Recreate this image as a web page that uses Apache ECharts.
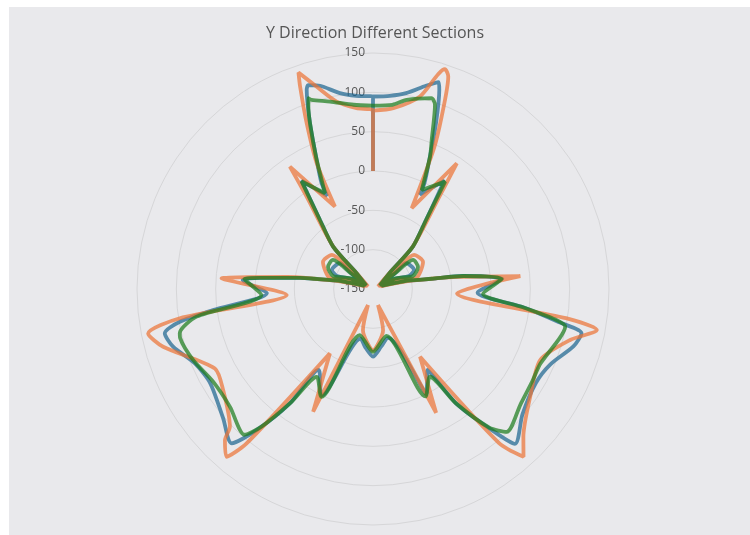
<!DOCTYPE html>
<html>
<head>
<meta charset="utf-8">
<script src="https://cdn.jsdelivr.net/npm/echarts@6/dist/echarts.min.js"></script>
<style>
  html, body { margin: 0; padding: 0; background: #fff; }
  #chart { width: 750px; height: 535px; }
</style>
</head>
<body>
<div id="chart"></div>
<script>
// angles in degrees, counter-clockwise from the top
const radialTicks = [-150, -100, -50, 0, 50, 100, 150];

const blueTheta = [0, 0, 5, 9.6, 14.6, 17.6, 18.4, 20.8, 23.3, 25.9, 26.2, 33.4, 37.5, 43.2, 46, 63, 54.5, 51.8, 65.1, 70.1, 64.5, 69.4, 76.4, 80.2, 81.4, 84.4, 86, 92.3, 97.5, 99.6, 102, 106.1, 112.7, 120, 130.8, 137.5, 140.5, 144, 146, 154.3, 166, 172, 180, 188, 197, 207, 214, 216, 220, 222.5, 230, 240, 247, 254, 258, 260, 263, 268, 274.5, 278.2, 279.8, 283.6, 290.6, 295.5, 289.9, 294.9, 308.2, 305.5, 297, 314, 316.8, 322.5, 326.6, 333.6, 334.1, 336.7, 339.2, 341.6, 342.4, 345.4, 350.4, 355, 360];
const blueR = [0, 94.7, 96.5, 102.5, 117, 122, 117, 75.6, 33, 0, -18, 15, -39, -76, -121, -141, -117, -96.6, -92.5, -101.3, -120, -139, -106.7, -75, -56, -5.6, 16, -15, 55, 99, 120.6, 114.5, 95.4, 89, 101.6, 116, 82.6, 29.8, -26, 0, -85, -76, -64, -76, -85, 0, -26, 30, 83, 117, 98, 89, 95, 115, 121, 88, 43, -17, 15, -34, -75, -106.7, -139, -120, -101.3, -92.5, -96.6, -117, -141, -121, -76, -39, 15, -16, 0, 33, 75.6, 117, 126, 117, 102.5, 96.5, 94.7];

const orangeTheta = [0, 0, 5.2, 11, 15.6, 19, 19.8, 21.8, 24.1, 24.8, 34.2, 35.7, 43.2, 47, 63, 52, 50.3, 61.6, 75.7, 66, 70, 77, 80, 82, 86, 94, 98.6, 101.2, 105.4, 116.7, 124, 133.9, 135.6, 138.9, 140.7, 146.2, 154, 162.6, 166.3, 180, 193.7, 197.4, 207, 214.8, 219.3, 221.9, 225.5, 235.6, 247, 255.5, 259.6, 261.4, 267, 275, 278, 280, 283, 290, 294, 284.3, 298.4, 309.7, 308, 297, 313, 316.8, 324.3, 326.3, 334.4, 336.5, 338.3, 340.5, 341.9, 346.3, 353.6, 360];
const orangeR = [0, 76.8, 80.8, 92.7, 117.2, 141, 123.6, 77, 25.2, -34.6, 38, -5.4, -76, -125, -143, -115, -82.2, -77.7, -93.5, -122, -140, -105, -75, -40, 43, -40, 98.4, 141.4, 126.7, 75, 79.8, 102.5, 119, 133, 103.7, -51.5, 23.6, -128.6, -96, -72.4, -96, -128.6, 26.7, -45.2, 103, 136.5, 118, 92.2, 80.9, 108.9, 139.3, 98, -43, 38, -40, -75, -105, -140, -122, -93.5, -77.7, -82.2, -115, -143, -125, -76, -5.4, 42, -36, 42.7, 86, 136.6, 144, 102, 81.3, 76.8];

const greenTheta = [0, 6, 12.9, 18, 18.7, 19.5, 20.8, 23.3, 26.6, 33.6, 37.5, 43.2, 46, 63, 54.5, 54, 63.9, 72, 65, 69.4, 76.4, 80, 81.4, 84.4, 85.5, 93.1, 98.9, 102.9, 104.3, 111.6, 120, 129.5, 138.6, 141, 144, 147.3, 154.5, 164, 180, 196, 206, 213, 216, 220, 223.1, 232, 240, 246, 255, 258.9, 260.5, 263, 267.5, 274.5, 278.2, 280, 283.6, 290.6, 295, 288, 296.1, 306, 305.5, 297, 314, 316.8, 322.5, 326.1, 333.8, 336.7, 338.5, 341.4, 343, 349.9, 354, 360];
const greenR = [83.2, 85.5, 94.5, 102.8, 106, 96, 75.6, 33, -13.8, 14, -39, -76, -121, -140, -115, -87, -86.3, -96.5, -118, -138, -105, -75, -56, -5.6, 14, -8, 77, 102, 103, 95.8, 85, 85.6, 97, 75, 29.8, -17.4, 2, -89, -70, -88, 2, -17, 30, 80, 98.7, 88, 84, 83, 95, 99, 85, 43, -10, 14, -34, -75, -105, -138, -118, -96.5, -86.3, -87, -115, -140, -121, -76, -39, 14.4, -9.7, 33, 53.7, 97, 103.8, 94.3, 85.5, 83.2];

function pairs(rs, ts) {
  return rs.map((r, i) => [r, ts[i]]);
}

function lineSeries(name, color, rs, ts) {
  return {
    name: name,
    type: 'line',
    coordinateSystem: 'polar',
    data: pairs(rs, ts),
    showSymbol: false,
    smooth: 0.25,
    lineStyle: { color: color, width: 3.8, opacity: 0.72 },
    z: 3
  };
}

let myChart = echarts.init(document.getElementById('chart'));
myChart.setOption({
  backgroundColor: '#fff',
  animation: false,
  graphic: [{
    type: 'rect',
    left: 9,
    top: 7,
    shape: { width: 741, height: 528 },
    style: { fill: '#e9e9ec' },
    z: -10
  }],
  title: {
    text: 'Y Direction Different Sections',
    left: 'center',
    top: 20,
    textStyle: {
      fontFamily: 'Open Sans',
      fontSize: 16,
      fontWeight: 'normal',
      color: '#555'
    }
  },
  polar: {
    center: [373, 289],
    radius: 236
  },
  angleAxis: {
    type: 'value',
    min: 0,
    max: 360,
    startAngle: 90,
    clockwise: false,
    axisLine: { show: false },
    axisTick: { show: false },
    axisLabel: { show: false },
    splitLine: { show: false }
  },
  radiusAxis: {
    type: 'value',
    min: radialTicks[0],
    max: radialTicks[radialTicks.length - 1],
    interval: 50,
    axisLine: { show: false },
    axisTick: { show: false },
    axisLabel: {
      fontFamily: 'Open Sans',
      fontSize: 12,
      color: '#555'
    },
    splitLine: { show: true, lineStyle: { color: '#d6d6d8', width: 1 } }
  },
  series: [
    lineSeries('Blue', '#1f6690', blueR, blueTheta),
    lineSeries('Orange', '#ec7438', orangeR, orangeTheta),
    lineSeries('Green', '#1d7d1d', greenR, greenTheta)
  ]
});
</script>
</body>
</html>
